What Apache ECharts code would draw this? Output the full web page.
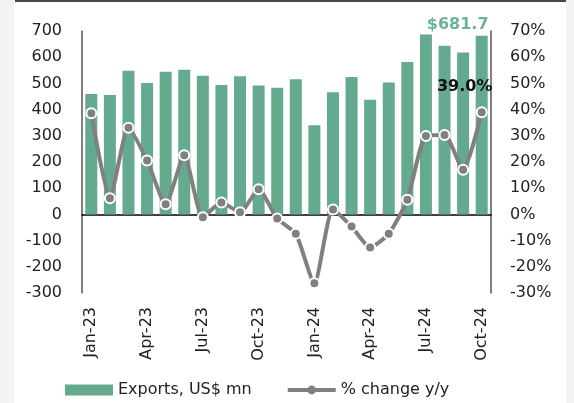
<!DOCTYPE html>
<html>
<head>
<meta charset="utf-8">
<script src="https://cdn.jsdelivr.net/npm/echarts@6/dist/echarts.min.js"></script>
<style>
  html, body { margin: 0; padding: 0; background: #fff; }
  #chart { width: 574px; height: 403px; }
</style>
</head>
<body>
<div id="chart"></div>
<script>
// months Jan-23 .. Oct-24
var months = ['Jan-23','Feb-23','Mar-23','Apr-23','May-23','Jun-23','Jul-23','Aug-23','Sep-23','Oct-23','Nov-23','Dec-23',
              'Jan-24','Feb-24','Mar-24','Apr-24','May-24','Jun-24','Jul-24','Aug-24','Sep-24','Oct-24'];
// exports, US$ mn
var exportsVal = [460, 456, 548, 502, 544, 552, 529, 494, 527, 492, 483, 516,
                  340, 466, 524, 438, 503, 582, 687, 644, 618, 681.7];
// % change y/y
var changeVal = [38.6, 6.2, 33.1, 20.6, 3.9, 22.6, -1.1, 4.5, 0.8, 9.6, -1.6, -7.4,
                 -26.3, 1.9, -4.6, -12.6, -7.4, 5.6, 29.9, 30.3, 17.0, 39.0];

var green = '#64aa8f';
var grey = '#808080';
var font = 'DejaVu Sans';

var myChart = echarts.init(document.getElementById('chart'));

// only the last points get a label
var barData = exportsVal.map(function (v, i) {
  if (i === exportsVal.length - 1) {
    return {
      value: v,
      label: {
        show: true, position: 'top', offset: [-24, 2],
        formatter: '$' + v.toFixed(1),
        color: '#6db497', fontWeight: 'bold', fontSize: 16, fontFamily: font
      }
    };
  }
  return v;
});
var lineData = changeVal.map(function (v, i) {
  if (i === changeVal.length - 1) {
    return {
      value: v,
      label: {
        show: true, position: 'top', offset: [-17, -6],
        formatter: v.toFixed(1) + '%',
        color: '#111', fontWeight: 'bold', fontSize: 16, fontFamily: font
      }
    };
  }
  return v;
});

var option = {
  animation: false,
  textStyle: { fontFamily: font },
  graphic: [
    { type: 'rect', shape: { x: 0, y: 0, width: 14, height: 403 }, style: { fill: '#f3f3f3' } },
    { type: 'rect', shape: { x: 566, y: 0, width: 8, height: 403 }, style: { fill: '#f3f3f3' } },
    { type: 'rect', shape: { x: 15, y: 0, width: 551, height: 2 }, style: { fill: '#4b4b3f' } }
  ],
  grid: { left: 82, right: 83, top: 31, bottom: 110 },
  legend: {
    bottom: 0,
    left: 60,
    itemWidth: 48,
    itemHeight: 11,
    itemGap: 34,
    textStyle: { fontSize: 16, color: '#222', fontFamily: font },
    data: [
      { name: 'Exports, US$ mn', icon: 'rect' },
      {
        name: '% change y/y',
        lineStyle: { width: 4, color: grey },
        itemStyle: { color: grey, borderWidth: 0 }
      }
    ]
  },
  xAxis: {
    type: 'category',
    data: months,
    axisLine: { onZero: true, lineStyle: { color: '#000', width: 1.5 } },
    axisTick: { show: false },
    axisLabel: {
      interval: 2, rotate: 90, fontSize: 16, color: '#222', margin: 14,
      fontFamily: font
    }
  },
  yAxis: [
    {
      type: 'value', min: -300, max: 700, interval: 100,
      splitLine: { show: false },
      axisLine: { show: true, lineStyle: { color: '#555', width: 1.5 } },
      axisTick: { show: false },
      axisLabel: { fontSize: 16, color: '#222', margin: 20, fontFamily: font }
    },
    {
      type: 'value', min: -30, max: 70, interval: 10,
      splitLine: { show: false },
      axisLine: { show: true, lineStyle: { color: '#555', width: 1.5 } },
      axisTick: { show: false },
      axisLabel: { fontSize: 16, color: '#222', margin: 19, formatter: '{value}%', fontFamily: font }
    }
  ],
  series: [
    {
      name: 'Exports, US$ mn',
      type: 'bar',
      data: barData,
      barWidth: 12,
      itemStyle: { color: green }
    },
    {
      name: '% change y/y',
      type: 'line',
      yAxisIndex: 1,
      data: lineData,
      smooth: 0.2,
      symbol: 'circle',
      symbolSize: 10,
      lineStyle: { color: grey, width: 4 },
      itemStyle: { color: grey, borderColor: '#fff', borderWidth: 2 },
      z: 5
    }
  ]
};

myChart.setOption(option);
</script>
</body>
</html>
